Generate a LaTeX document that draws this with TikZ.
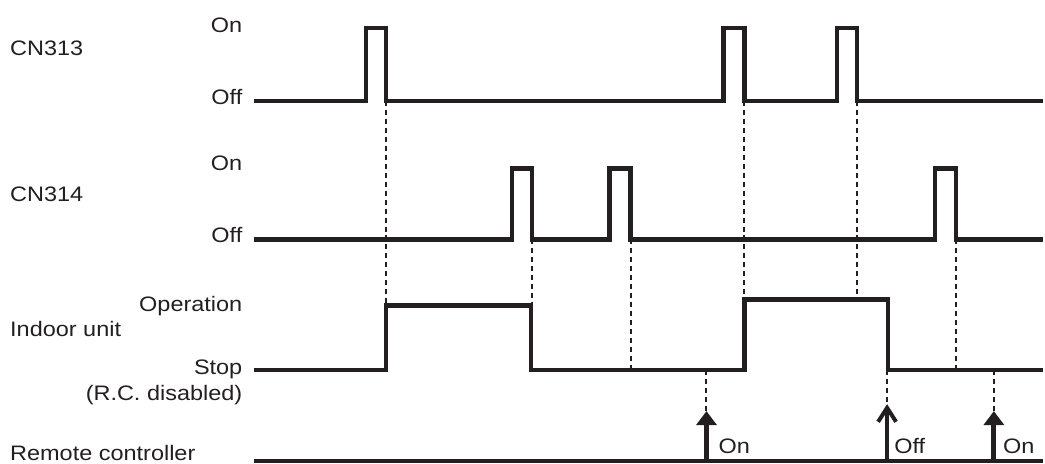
\documentclass[tikz,border=0pt]{standalone}
\usepackage{fontspec}
\setmainfont[FakeStretch=1.12]{Liberation Sans}
\usetikzlibrary{arrows.meta}
\definecolor{ink}{RGB}{35,31,32}
\newcommand{\drawthick}{\draw[line width=4.5pt, ink]}
\newcommand{\drawdashed}{\draw[line width=2pt, ink, dash pattern=on 5pt off 4pt]}
\tikzset{
  lbl/.style={inner sep=0pt, text=ink, font=\fontsize{21}{23}\selectfont},
  level/.style={lbl, anchor=base east},
  sigtitle/.style={lbl, anchor=base west},
  onarrow/.style={line width=5pt, ink, -{Triangle[width=20pt,length=14pt]}},
  offarrow/.style={line width=4pt, ink, -{Straight Barb[width=18pt,length=14pt]}}
}
\begin{document}
\begin{tikzpicture}[x=1pt,y=-1pt]
\path[fill=white] (0,0) rectangle (1045,465);
\node[sigtitle] (cn313) at (10,56) {CN313};
\node[level] (on313) at (243,33) {On};
\node[level] (off313) at (243,105) {Off};
\node[sigtitle] (cn314) at (10,202) {CN314};
\node[level] (on314) at (243,171) {On};
\node[level] (off314) at (243,243) {Off};
\node[sigtitle] (indoor) at (10,337) {Indoor unit};
\node[level] (oper) at (243,312) {Operation};
\node[level] (stop) at (243,375) {Stop};
\node[level] (disabled) at (243,401) {(R.C. disabled)};
\node[sigtitle] (remote) at (10,461) {Remote controller};
\drawthick (255,101) -| (367,28) -| (387,101) -| (725,28) -| (746,101) -| (839,28) -| (859,101) -- (1045,101);
\drawthick (255,240) -| (513,169) -| (533,240) -| (611,169) -| (632,240) -| (937,169) -| (958,240) -- (1045,240);
\drawthick (255,371) -| (387,306) -| (532,371) -| (746,300) -| (890,371) -- (1045,371);
\drawthick (255,462) -- (1045,462);
\coordinate (a1) at (387,101); \coordinate (b1) at (387,306);
\coordinate (a2) at (533,240); \coordinate (b2) at (533,306);
\coordinate (a3) at (632,240); \coordinate (b3) at (632,371);
\coordinate (a4) at (746,101); \coordinate (b4) at (746,300);
\coordinate (a5) at (859,101); \coordinate (b5) at (859,300);
\coordinate (a6) at (958,240); \coordinate (b6) at (958,371);
\coordinate (s1) at (708,371); \coordinate (t1) at (708,412); \coordinate (r1) at (708,462);
\coordinate (s2) at (889,371); \coordinate (t2) at (889,405); \coordinate (r2) at (889,462);
\coordinate (s3) at (996,371); \coordinate (t3) at (996,412); \coordinate (r3) at (996,462);
\foreach \i in {1,...,6}{
  \drawdashed (a\i) -- (b\i);
}
\foreach \i in {1,2,3}{
  \drawdashed (s\i) -- (t\i);
}
\draw[onarrow] (r1) -- (t1);
\draw[offarrow] (r2) -- (t2);
\draw[onarrow] (r3) -- (t3);
\node[sigtitle] (pushon) at (720,454) {On};
\node[sigtitle] (pushoff) at (896,454) {Off};
\node[sigtitle] (pushon2) at (1005,454) {On};
\end{tikzpicture}
\end{document}
